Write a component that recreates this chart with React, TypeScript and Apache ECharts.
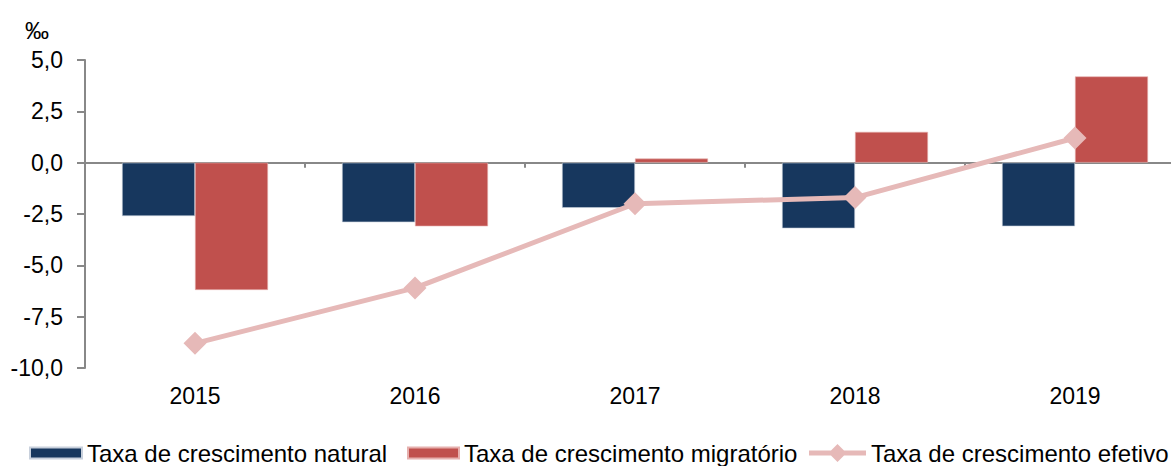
import React, { useEffect, useRef } from "react";
import * as echarts from "echarts";

const years = ["2015", "2016", "2017", "2018", "2019"];
const natural = [-2.6, -2.9, -2.2, -3.2, -3.1];
const migratorio = [-6.2, -3.1, 0.2, 1.5, 4.2];
const efetivo = [-8.8, -6.1, -2.0, -1.7, 1.2];
const seriesNames = [
  "Taxa de crescimento natural",
  "Taxa de crescimento migratório",
  "Taxa de crescimento efetivo",
];

const FONT = "Liberation Sans, Arial, sans-serif";
const LINE_ICON =
  "path://M0,6.5 L22,6.5 L28.5,0 L35,6.5 L57,6.5 L57,11.5 L35,11.5 L28.5,18 L22,11.5 L0,11.5 Z";

export default function App() {
  const ref = useRef<HTMLDivElement>(null);
  useEffect(() => {
    if (!ref.current) return;
    const chart = echarts.init(ref.current, undefined, { renderer: "svg" });
    const legendBase = {
      top: 441,
      padding: 0,
      itemHeight: 11,
      textStyle: { fontSize: 24, color: "#000", fontFamily: FONT },
    };
    chart.setOption({
      animation: false,
      textStyle: { fontFamily: FONT },
      grid: { left: 85, right: 0, top: 60, bottom: 98, containLabel: false },
      legend: [
        { ...legendBase, left: 29, itemWidth: 52, data: [{ name: seriesNames[0], icon: "rect" }] },
        { ...legendBase, left: 407, itemWidth: 51, data: [{ name: seriesNames[1], icon: "rect" }] },
        {
          ...legendBase,
          left: 809,
          itemWidth: 57,
          itemHeight: 18,
          symbolKeepAspect: false,
          data: [
            {
              name: seriesNames[2],
              icon: LINE_ICON,
              itemStyle: { color: "#E6B9B8" },
            },
          ],
        },
      ],
      graphic: [
        {
          type: "text",
          left: 25,
          top: 18,
          style: { text: "‰", fontSize: 24, fill: "#000", fontFamily: FONT },
        },
      ],
      xAxis: {
        type: "category",
        data: years,
        axisLine: { onZero: true, lineStyle: { color: "#888", width: 2 } },
        axisTick: { show: true, length: 5, lineStyle: { color: "#888", width: 2 } },
        axisLabel: {
          fontSize: 23,
          color: "#000",
          fontFamily: FONT,
          interval: 0,
          margin: 16,
        },
        position: "bottom",
      },
      yAxis: {
        type: "value",
        min: -10,
        max: 5,
        interval: 2.5,
        splitLine: { show: false },
        axisLine: { show: true, lineStyle: { color: "#888", width: 2 } },
        axisTick: { show: true, length: 8, lineStyle: { color: "#888", width: 2 } },
        axisLabel: {
          fontSize: 23,
          color: "#000",
          margin: 22,
          fontFamily: FONT,
          formatter: (v: number) => v.toFixed(1).replace(".", ","),
        },
      },
      series: [
        {
          name: seriesNames[0],
          type: "bar",
          data: natural,
          barWidth: 73,
          barGap: "0%",
          itemStyle: { color: "#17375E", borderColor: "#c8d0dc", borderWidth: 0.6 },
        },
        {
          name: seriesNames[1],
          type: "bar",
          data: migratorio,
          barWidth: 73,
          barGap: "0%",
          itemStyle: { color: "#C0504D", borderColor: "#e6b0ae", borderWidth: 0.6 },
        },
        {
          name: seriesNames[2],
          type: "line",
          data: efetivo,
          symbol: "diamond",
          symbolSize: 23,
          lineStyle: { color: "#E6B9B8", width: 5 },
          itemStyle: { color: "#E6B9B8" },
          z: 5,
        },
      ],
    });
    return () => chart.dispose();
  }, []);
  return (
    <div
      style={{
        position: "absolute",
        left: 0,
        top: 0,
        width: 1171,
        height: 466,
        overflow: "hidden",
      }}
    >
      <div ref={ref} style={{ width: 1185, height: 466 }} />
    </div>
  );
}
